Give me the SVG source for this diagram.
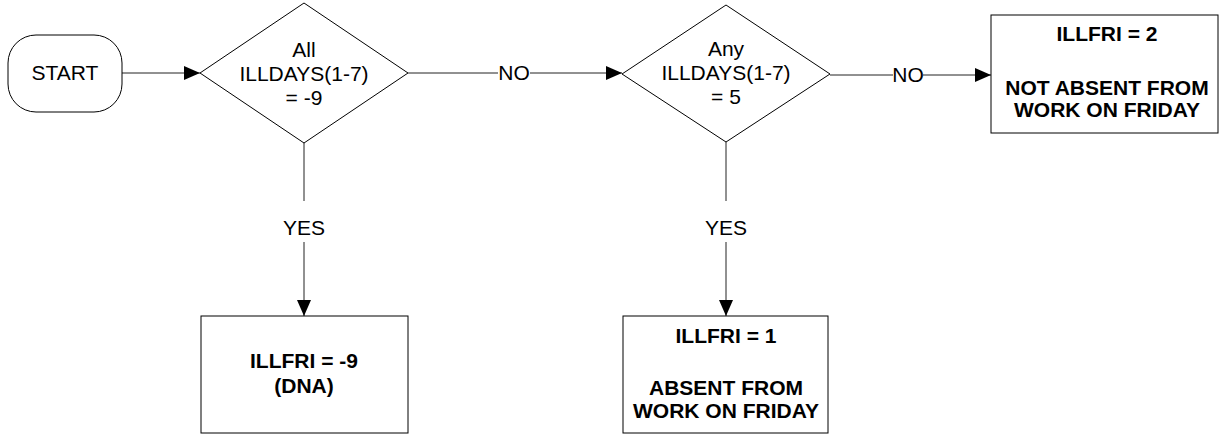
<svg xmlns="http://www.w3.org/2000/svg" width="1226" height="438" viewBox="0 0 1226 438">
<style>
.shape{fill:#fff;stroke:#000;stroke-width:1}
.t{font-family:"Liberation Sans",Arial,sans-serif;font-size:21px;fill:#000;text-anchor:middle}
.b{font-weight:bold}
.conn{fill:none;stroke:#222;stroke-width:1}
.lbg{fill:#fff}
</style>
<defs>
<marker id="arr" markerUnits="userSpaceOnUse" markerWidth="16" markerHeight="14" refX="16" refY="7" orient="auto">
<path d="M0,0 L16,7 L0,14 Z" fill="#000"/>
</marker>
</defs>
<g id="connectors">
<line class="conn" x1="122" y1="73" x2="200" y2="73" marker-end="url(#arr)"/>
<line class="conn" x1="408" y1="73" x2="622" y2="73" marker-end="url(#arr)"/>
<rect class="lbg" x="498" y="62" width="32" height="22"/>
<text class="t" x="514" y="80">NO</text>
<line class="conn" x1="830" y1="75" x2="991" y2="75" marker-end="url(#arr)"/>
<rect class="lbg" x="893" y="64" width="30" height="22"/>
<text class="t" x="908" y="82">NO</text>
<line class="conn" x1="304" y1="143" x2="304" y2="316" marker-end="url(#arr)"/>
<rect class="lbg" x="282" y="201" width="44" height="41"/>
<text class="t" x="304" y="235">YES</text>
<line class="conn" x1="726" y1="142" x2="726" y2="316" marker-end="url(#arr)"/>
<rect class="lbg" x="704" y="201" width="44" height="41"/>
<text class="t" x="726" y="235">YES</text>
</g>
<g id="start">
<rect class="shape" x="8" y="35" width="114" height="77" rx="28" ry="28"/>
<text class="t" x="65" y="80">START</text>
</g>
<g id="decision1">
<polygon class="shape" points="200,73 304,3 408,73 304,143"/>
<text class="t" x="304" y="57">All</text>
<text class="t" x="304" y="81">ILLDAYS(1-7)</text>
<text class="t" x="304" y="105">= -9</text>
</g>
<g id="decision2">
<polygon class="shape" points="622,74 726,5 830,74 726,142"/>
<text class="t" x="726" y="56">Any</text>
<text class="t" x="726" y="80">ILLDAYS(1-7)</text>
<text class="t" x="726" y="104">= 5</text>
</g>
<g id="result-notabsent">
<rect class="shape" x="991" y="15" width="227" height="118"/>
<text class="t b" x="1107" y="41">ILLFRI = 2</text>
<text class="t b" x="1107" y="95">NOT ABSENT FROM</text>
<text class="t b" x="1107" y="117">WORK ON FRIDAY</text>
</g>
<g id="result-dna">
<rect class="shape" x="201" y="316" width="207" height="117"/>
<text class="t b" x="304" y="368">ILLFRI = -9</text>
<text class="t b" x="304" y="393">(DNA)</text>
</g>
<g id="result-absent">
<rect class="shape" x="623" y="316" width="205" height="117"/>
<text class="t b" x="726" y="343">ILLFRI = 1</text>
<text class="t b" x="726" y="395">ABSENT FROM</text>
<text class="t b" x="726" y="418">WORK ON FRIDAY</text>
</g>
</svg>
